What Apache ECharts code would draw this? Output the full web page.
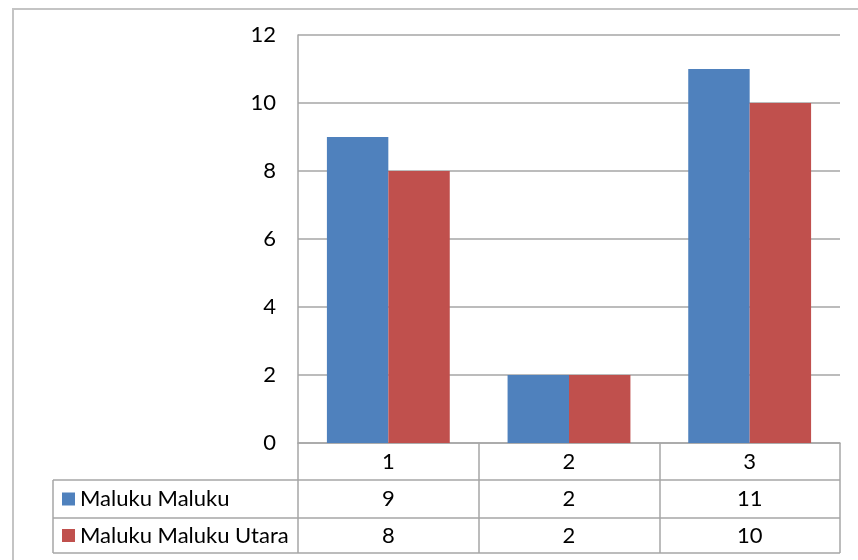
<!DOCTYPE html>
<html>
<head>
<meta charset="utf-8">
<script src="https://cdn.jsdelivr.net/npm/echarts@6/dist/echarts.min.js"></script>
<style>
html,body{margin:0;padding:0;background:#fff;}
#chart{width:858px;height:560px;}
</style>
</head>
<body>
<div id="chart"></div>
<script>
// ---- data ----
var categories = ['1', '2', '3'];
var seriesNames = ['Maluku Maluku', 'Maluku Maluku Utara'];
var malukuValues = [9, 2, 11];
var malukuUtaraValues = [8, 2, 10];
var yTicks = [0, 2, 4, 6, 8, 10, 12];

// ---- layout ----
var colors = ['#4F81BD', '#C0504D'];
var FONT = 'Lato, "Liberation Sans", sans-serif';
var FS = 22;
var TXT = '#000';
var gridLeft = 298, gridRight = 840, gridTop = 35, axisY = 443;
var rowLines = [480, 518, 553];
var tableLeft = 53;
var lineColor = '#a6a6a6';

var chart = echarts.init(document.getElementById('chart'), null, {renderer: 'canvas'});

var allSeries = [malukuValues, malukuUtaraValues];

var option = {
  animation: false,
  backgroundColor: '#fff',
  grid: {left: gridLeft, right: 858 - gridRight, top: gridTop, bottom: 560 - axisY, containLabel: false},
  xAxis: {
    type: 'category',
    data: categories,
    axisLine: {show: true, lineStyle: {color: lineColor, width: 1.5}},
    axisTick: {show: true, interval: 0, length: rowLines[2] - axisY, lineStyle: {color: lineColor, width: 1.5}},
    axisLabel: {color: TXT, fontFamily: FONT, fontSize: FS, margin: 19, verticalAlign: 'middle'},
    splitLine: {show: false}
  },
  yAxis: {
    type: 'value',
    min: yTicks[0], max: yTicks[yTicks.length - 1], interval: yTicks[1] - yTicks[0],
    axisLine: {show: true, lineStyle: {color: lineColor, width: 1.5}},
    axisTick: {show: false},
    axisLabel: {color: TXT, fontFamily: FONT, fontSize: FS, margin: 22},
    splitLine: {show: true, lineStyle: {color: lineColor, width: 1.5}}
  },
  series: seriesNames.map(function (name, i) {
    return {
      name: name,
      type: 'bar',
      data: allSeries[i],
      barGap: '0%',
      barCategoryGap: '32%',
      itemStyle: {color: colors[i]}
    };
  })
};
chart.setOption(option);

// ---- data table (built from the arrays) ----
var g = [];
g.push({type: 'rect', shape: {x: 13, y: 9, width: 900, height: 600},
  style: {fill: 'none', stroke: '#c4c4c4', lineWidth: 2}, z: 0});
rowLines.forEach(function (y) {
  g.push({type: 'line', shape: {x1: tableLeft, y1: y, x2: gridRight, y2: y},
    style: {stroke: lineColor, lineWidth: 1.5}, z: 10});
});
g.push({type: 'line', shape: {x1: tableLeft, y1: rowLines[0], x2: tableLeft, y2: rowLines[2]},
  style: {stroke: lineColor, lineWidth: 1.5}, z: 10});

seriesNames.forEach(function (name, i) {
  var top = rowLines[i], bot = rowLines[i + 1], cy = (top + bot) / 2;
  g.push({type: 'rect', shape: {x: 62, y: cy - 6.5, width: 13, height: 13},
    style: {fill: colors[i]}, z: 10});
  g.push({type: 'text', x: 80, y: cy,
    style: {text: name, fontFamily: FONT, fontSize: FS, fill: TXT, verticalAlign: 'middle', align: 'left'}, z: 10});
  allSeries[i].forEach(function (v, j) {
    var px = chart.convertToPixel({xAxisIndex: 0}, categories[j]);
    g.push({type: 'text', x: px, y: cy,
      style: {text: String(v), fontFamily: FONT, fontSize: FS, fill: TXT, verticalAlign: 'middle', align: 'center'}, z: 10});
  });
});
chart.setOption({graphic: {elements: g}});
</script>
</body>
</html>
